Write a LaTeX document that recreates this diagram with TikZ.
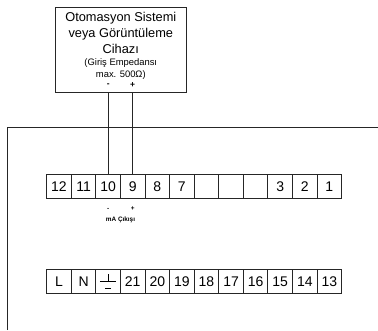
\documentclass[tikz,border=0pt]{standalone}
\usepackage{fontspec}
\setmainfont{Liberation Sans}
\tikzset{
  x=1pt,y=-1pt,
  termbox/.style={draw=black!85,line width=0.85pt,minimum width=24.58pt,minimum height=24.6pt,inner sep=0pt,font=\fontsize{14}{14}\selectfont,anchor=north west,outer sep=0pt},
  wire/.style={draw=black!85,line width=0.9pt},
  devbox/.style={draw=black!85,line width=0.9pt,fill=white,minimum width=130.5pt,minimum height=85pt,inner sep=0pt,anchor=north west,outer sep=0pt},
  smalltext/.style={inner sep=0pt,font=\fontsize{8.5}{8.5}\selectfont},
  tinybold/.style={inner sep=0pt,font=\bfseries\fontsize{6.4}{6.4}\selectfont},
}
\begin{document}
\begin{tikzpicture}
\useasboundingbox (0,0) rectangle (378,330);
% device
\node[devbox] (dev) at (55.5,7) {};
\node[inner sep=0pt,align=center,font=\fontsize{12.8}{15.6}\selectfont,anchor=center] (devt) at (120.8,33) {Otomasyon Sistemi\\veya Görüntüleme\\Cihazı};
\node[inner sep=0pt,align=center,font=\fontsize{9.4}{12}\selectfont,anchor=center] (devs) at (120.8,69.5) {(Giriş Empedansı\\max. 500Ω)};
\node[smalltext] (dm) at (108.3,85) {\bfseries -};
\node[smalltext] (dp) at (132.7,85) {\bfseries +};
% enclosure
\coordinate (el) at (7.5,330);
\coordinate (ec) at (7.5,127);
\coordinate (er) at (378,127);
\draw[wire] (el) -- (ec) -- (er);
% terminals top
\foreach \lab [count=\i from 0] in {12,11,10,9,8,7,,,,3,2,1}{
  \node[termbox] (t\i) at ({46.7+24.58*\i},174.3) {\lab};
}
% terminals bottom
\foreach \lab [count=\i from 0] in {L,N,,21,20,19,18,17,16,15,14,13}{
  \node[termbox] (b\i) at ({46.7+24.58*\i},269) {\lab};
}
% earth symbol
\draw[line width=0.6pt] (b2.center)++(0,-7.3) -- ++(0,7.3);
\draw[line width=0.6pt] (b2.center)++(-8.3,0) -- ++(16.6,0);
\draw[line width=0.6pt] (b2.center)++(-3,6.7) -- ++(6,0);
% wires
\draw[wire] (dev.south west -| t2.north) -- (t2.north);
\draw[wire] (dev.south west -| t3.north) -- (t3.north);
% labels
\node[tinybold] (om) at (108.3,209) {-};
\node[tinybold] (op) at (132.7,209) {+};
\node[tinybold] (ma) at (120.5,220) {mA Çıkışı};
\end{tikzpicture}
\end{document}
